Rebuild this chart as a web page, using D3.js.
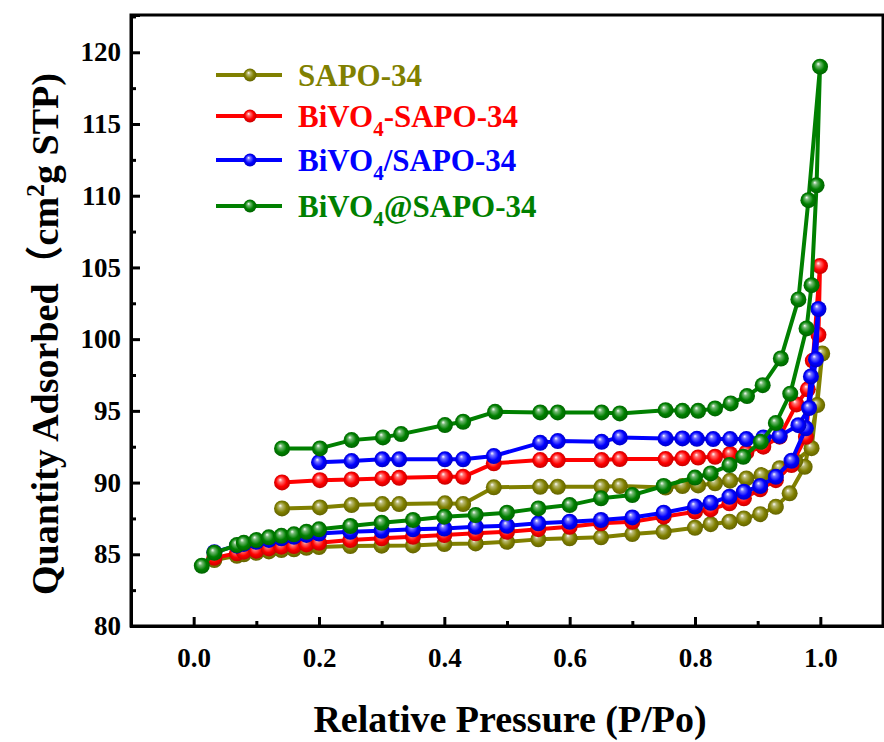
<!DOCTYPE html>
<html>
<head>
<meta charset="utf-8">
<script src="https://cdn.jsdelivr.net/npm/d3@7/dist/d3.min.js"></script>
<style>
  body { margin: 0; background: #fff; }
  text { font-family: "Liberation Serif", "Times New Roman", serif; font-weight: bold; }
</style>
</head>
<body>
<div id="chart"></div>
<script>
// Isotherm data: adsorption branch then desorption branch (P/Po, cm3/g STP)
const sapoP = [0.033, 0.069, 0.08, 0.10, 0.12, 0.14, 0.16, 0.18, 0.20, 0.25, 0.30, 0.35, 0.40, 0.45, 0.50, 0.55, 0.60, 0.65, 0.70, 0.75, 0.80, 0.825, 0.855, 0.878, 0.904, 0.929, 0.951, 0.975, 0.995, 1.003,
  0.986, 0.960, 0.935, 0.906, 0.882, 0.856, 0.832, 0.805, 0.780, 0.753, 0.680, 0.651, 0.581, 0.553, 0.479, 0.430, 0.401, 0.328, 0.301, 0.252, 0.2015, 0.141];
const sapoQ = [84.6, 84.9, 85.0, 85.1, 85.2, 85.3, 85.35, 85.45, 85.5, 85.57, 85.6, 85.62, 85.71, 85.76, 85.87, 86.04, 86.11, 86.18, 86.41, 86.57, 86.85, 87.1, 87.27, 87.5, 87.8, 88.31, 89.25, 91.1, 95.4, 99.0,
  92.4, 91.5, 91.0, 90.52, 90.29, 90.13, 89.95, 89.8, 89.76, 89.65, 89.76, 89.71, 89.71, 89.71, 89.67, 88.5, 88.55, 88.5, 88.5, 88.43, 88.27, 88.2];

const bsP = [0.033, 0.069, 0.08, 0.10, 0.12, 0.14, 0.16, 0.18, 0.20, 0.25, 0.30, 0.35, 0.40, 0.45, 0.50, 0.55, 0.60, 0.65, 0.70, 0.75, 0.80, 0.825, 0.855, 0.878, 0.904, 0.929, 0.954, 0.977, 0.988, 0.9995,
  0.997, 0.980, 0.962, 0.935, 0.909, 0.882, 0.856, 0.832, 0.805, 0.780, 0.753, 0.680, 0.651, 0.581, 0.553, 0.479, 0.430, 0.401, 0.328, 0.301, 0.252, 0.2015, 0.141];
const bsQ = [84.75, 85.07, 85.18, 85.25, 85.41, 85.53, 85.57, 85.69, 85.8, 85.99, 86.11, 86.22, 86.34, 86.46, 86.57, 86.75, 86.92, 87.16, 87.27, 87.62, 87.97, 88.13, 88.55, 88.9, 89.53, 90.17, 91.22, 93.19, 98.5, 105.1,
  100.3, 96.5, 95.45, 93.2, 92.5, 92.1, 91.99, 91.8, 91.75, 91.69, 91.64, 91.64, 91.57, 91.57, 91.57, 91.34, 90.4, 90.4, 90.33, 90.29, 90.22, 90.17, 90.01];

const bslP = [0.033, 0.069, 0.08, 0.10, 0.12, 0.14, 0.16, 0.18, 0.20, 0.25, 0.30, 0.35, 0.40, 0.45, 0.50, 0.55, 0.60, 0.65, 0.70, 0.75, 0.80, 0.825, 0.855, 0.878, 0.904, 0.929, 0.954, 0.977, 0.985, 0.997,
  0.993, 0.982, 0.965, 0.935, 0.909, 0.882, 0.856, 0.829, 0.803, 0.780, 0.753, 0.680, 0.651, 0.581, 0.553, 0.479, 0.430, 0.401, 0.328, 0.301, 0.252, 0.2];
const bslQ = [85.15, 85.6, 85.72, 85.87, 86.0, 86.12, 86.22, 86.35, 86.45, 86.57, 86.64, 86.74, 86.8, 86.92, 86.99, 87.16, 87.27, 87.39, 87.57, 87.9, 88.33, 88.59, 89.01, 89.36, 89.76, 90.4, 91.52, 93.78, 97.4, 102.1,
  98.6, 95.2, 94.0, 93.24, 93.15, 93.03, 93.03, 93.03, 93.05, 93.08, 93.08, 93.15, 92.84, 92.89, 92.77, 91.85, 91.62, 91.62, 91.62, 91.62, 91.5, 91.41];

const bsaP = [0.013, 0.033, 0.069, 0.08, 0.10, 0.12, 0.14, 0.16, 0.18, 0.20, 0.25, 0.30, 0.35, 0.40, 0.45, 0.50, 0.55, 0.60, 0.65, 0.70, 0.75, 0.80, 0.825, 0.855, 0.877, 0.905, 0.929, 0.952, 0.978, 0.986, 0.994, 0.9995,
  0.981, 0.965, 0.937, 0.908, 0.883, 0.857, 0.832, 0.805, 0.780, 0.753, 0.680, 0.651, 0.581, 0.553, 0.481, 0.430, 0.401, 0.331, 0.302, 0.252, 0.2015, 0.141];
const bsaQ = [84.2, 85.1, 85.64, 85.8, 85.99, 86.18, 86.29, 86.39, 86.57, 86.74, 86.97, 87.2, 87.39, 87.62, 87.74, 87.9, 88.2, 88.43, 88.9, 89.13, 89.76, 90.35, 90.64, 91.22, 91.8, 92.84, 94.15, 96.2, 100.75, 103.76, 110.73, 119.0,
  109.69, 102.77, 98.65, 96.79, 96.03, 95.52, 95.17, 95.0, 95.0, 95.05, 94.82, 94.89, 94.89, 94.89, 94.93, 94.24, 94.01, 93.38, 93.15, 92.96, 92.38, 92.38];

const seriesNames = ["SAPO-34", "BiVO4-SAPO-34", "BiVO4/SAPO-34", "BiVO4@SAPO-34"];
const seriesColors = ["#808000", "#ff0000", "#0000ff", "#008000"];
const seriesP = [sapoP, bsP, bslP, bsaP];
const seriesQ = [sapoQ, bsQ, bslQ, bsaQ];

const xTicks = [0, 0.2, 0.4, 0.6, 0.8, 1.0];
const xMinor = [-0.1, 0.1, 0.3, 0.5, 0.7, 0.9, 1.1];
const yTicks = [80, 85, 90, 95, 100, 105, 110, 115, 120];
const yMinor = [82.5, 87.5, 92.5, 97.5, 102.5, 107.5, 112.5, 117.5, 122.5];

const width = 884, height = 742;
const plot = { left: 131, right: 883, top: 15, bottom: 626 };

const svg = d3.select("#chart").append("svg")
  .attr("width", width)
  .attr("height", height);

const x = d3.scaleLinear().domain([-0.1, 1.1]).range([plot.left, plot.right]);
const y = d3.scaleLinear().domain([80, 122.6]).range([plot.bottom, plot.top]);

// sphere-like marker gradients
const defs = svg.append("defs");
seriesColors.forEach((c, i) => {
  const g = defs.append("radialGradient")
    .attr("id", "ball" + i)
    .attr("cx", "0.5").attr("cy", "0.5").attr("r", "0.55")
    .attr("fx", "0.38").attr("fy", "0.32");
  g.append("stop").attr("offset", "0%").attr("stop-color", "#ffffff");
  g.append("stop").attr("offset", "22%").attr("stop-color", d3.interpolateRgb(c, "#fff")(0.45));
  g.append("stop").attr("offset", "60%").attr("stop-color", c);
  g.append("stop").attr("offset", "100%").attr("stop-color", d3.color(c).darker(0.9));
});

// frame
svg.append("rect")
  .attr("x", plot.left).attr("y", plot.top)
  .attr("width", plot.right - plot.left).attr("height", plot.bottom - plot.top)
  .attr("fill", "none").attr("stroke", "#000").attr("stroke-width", 3);

// axes
const xAxis = svg.append("g")
  .attr("transform", "translate(0," + plot.bottom + ")")
  .call(d3.axisBottom(x).tickValues(xTicks).tickSize(-9).tickPadding(22).tickFormat(d3.format(".1f")));
const xAxisMinor = svg.append("g")
  .attr("transform", "translate(0," + plot.bottom + ")")
  .call(d3.axisBottom(x).tickValues(xMinor).tickSize(-5).tickFormat(""));

const yAxis = svg.append("g")
  .attr("transform", "translate(" + plot.left + ",0)")
  .call(d3.axisLeft(y).tickValues(yTicks).tickSize(-9).tickPadding(10));
const yAxisMinor = svg.append("g")
  .attr("transform", "translate(" + plot.left + ",0)")
  .call(d3.axisLeft(y).tickValues(yMinor).tickSize(-5).tickFormat(""));

[xAxis, xAxisMinor, yAxis, yAxisMinor].forEach(a => {
  a.select(".domain").attr("stroke-width", 3);
  a.selectAll(".tick line").attr("stroke-width", 3);
  a.selectAll("text")
    .style("font-size", "27px")
    .attr("fill", "#000");
});

// axis titles
svg.append("text")
  .attr("x", (plot.left + plot.right) / 2 + 3)
  .attr("y", 732)
  .attr("text-anchor", "middle")
  .style("font-size", "38px")
  .text("Relative Pressure (P/Po)");

const yTitle = svg.append("text")
  .attr("transform", "translate(58,334) rotate(-90)")
  .attr("text-anchor", "middle")
  .style("font-size", "38px");
yTitle.append("tspan").text("Quantity Adsorbed");
yTitle.append("tspan").style("font-family", "'Noto Sans CJK SC'").text("（");
yTitle.append("tspan").text("cm");
yTitle.append("tspan").attr("dy", -14).style("font-size", "26px").text("2");
yTitle.append("tspan").attr("dy", 14).text("g STP)");

// series
const line = d3.line()
  .x(d => x(d[0]))
  .y(d => y(d[1]));

seriesNames.forEach((name, i) => {
  const pts = seriesP[i].map((p, j) => [p, seriesQ[i][j]]);
  const g = svg.append("g");
  g.append("path")
    .datum(pts)
    .attr("fill", "none")
    .attr("stroke", seriesColors[i])
    .attr("stroke-width", 4)
    .attr("stroke-linejoin", "round")
    .attr("d", line);
  g.selectAll("circle")
    .data(pts)
    .enter()
    .append("circle")
    .attr("cx", d => x(d[0]))
    .attr("cy", d => y(d[1]))
    .attr("r", 8)
    .attr("fill", "url(#ball" + i + ")");
});

// legend
const legendY = [75, 116, 160, 206];
seriesNames.forEach((name, i) => {
  const g = svg.append("g").attr("transform", "translate(0," + legendY[i] + ")");
  g.append("line")
    .attr("x1", 216).attr("x2", 282)
    .attr("stroke", seriesColors[i]).attr("stroke-width", 4);
  g.append("circle")
    .attr("cx", 250).attr("r", 6.5)
    .attr("fill", "url(#ball" + i + ")");
  const t = g.append("text")
    .attr("x", 298).attr("y", 11)
    .attr("fill", seriesColors[i])
    .style("font-size", "31px");
  const parts = name.split("BiVO4");
  if (parts.length > 1) {
    t.append("tspan").text("BiVO");
    t.append("tspan").attr("dy", 9).style("font-size", "21px").text("4");
    t.append("tspan").attr("dy", -9).text(parts[1]);
  } else {
    t.text(name);
  }
});
</script>
</body>
</html>
